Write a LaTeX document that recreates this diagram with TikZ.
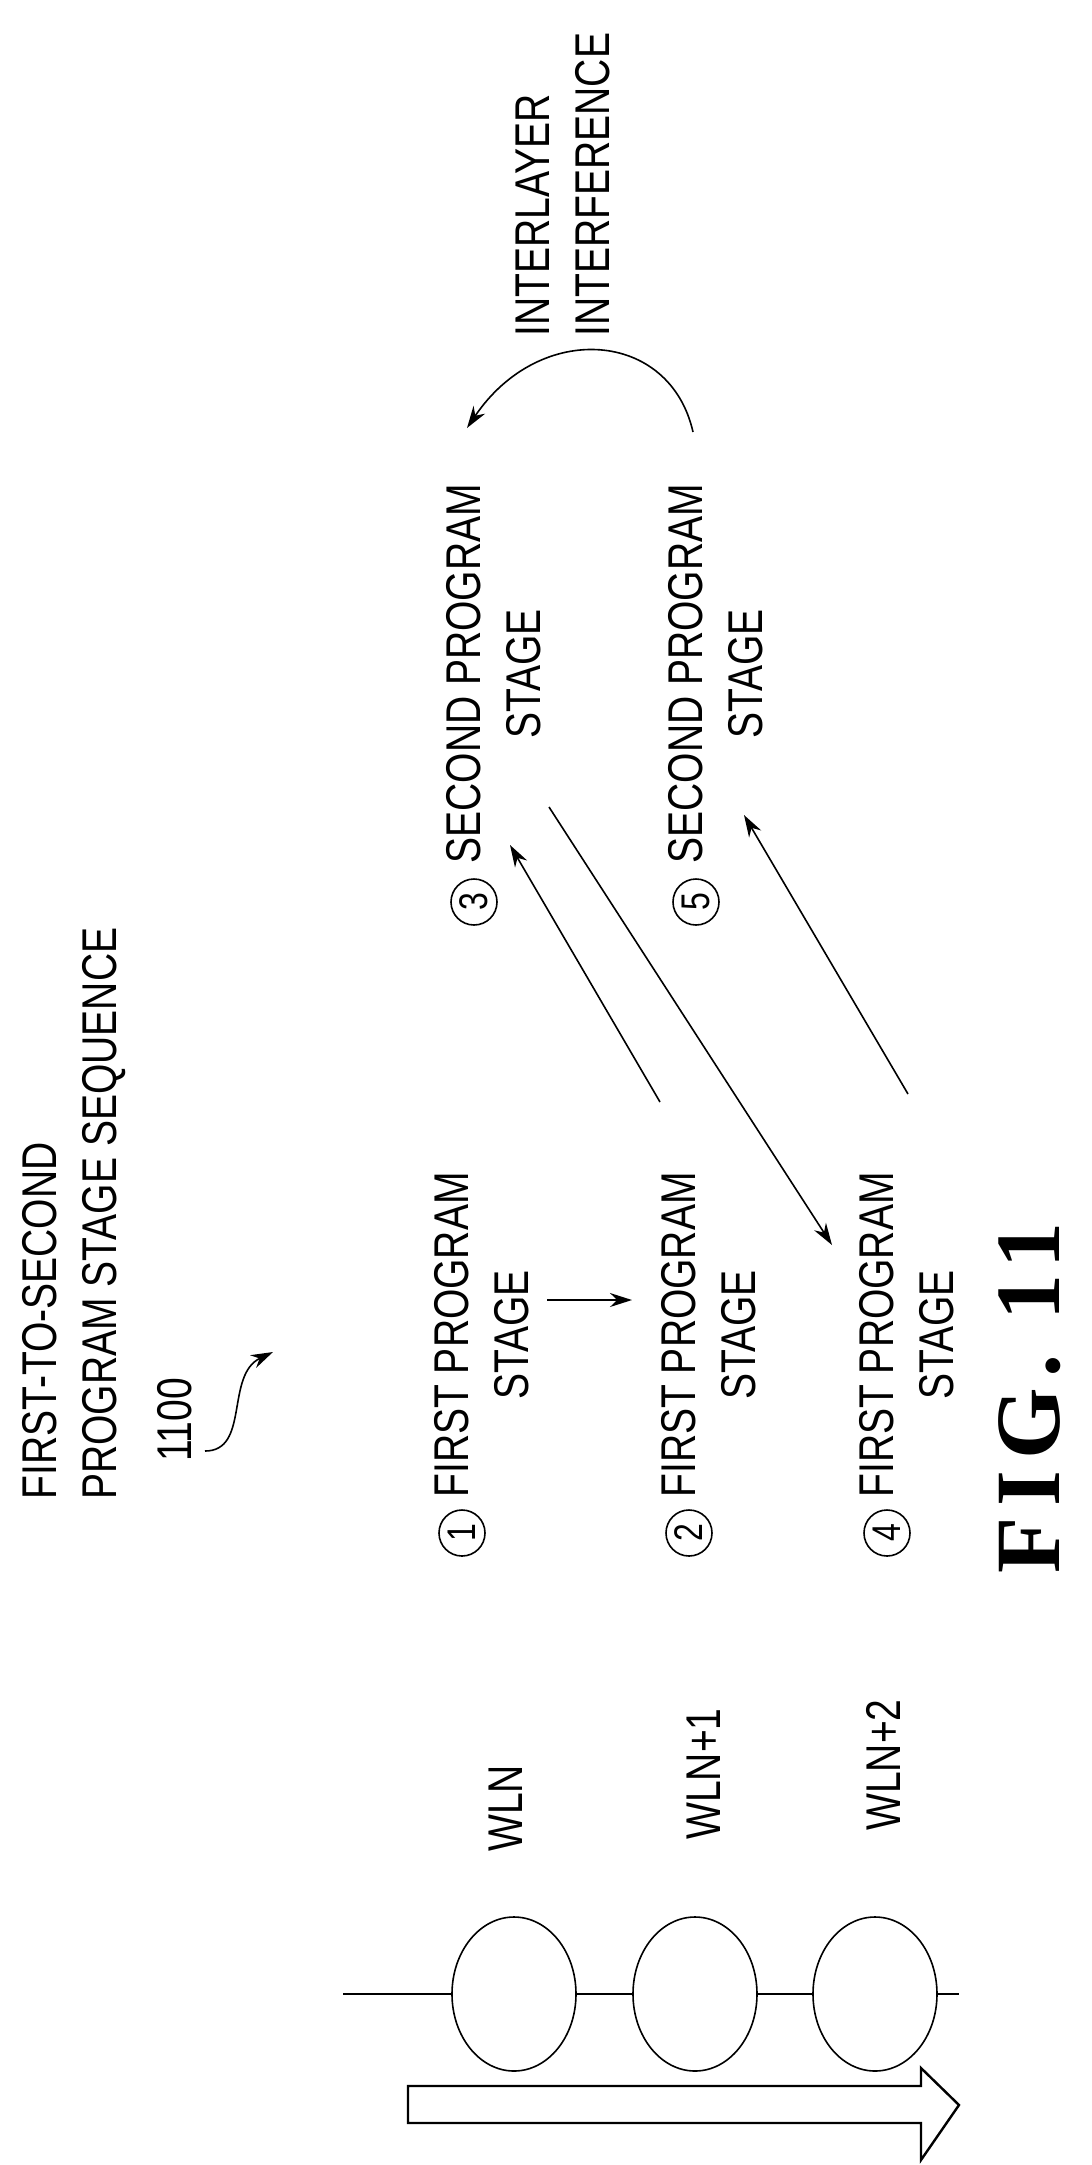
\documentclass[tikz,border=0pt]{standalone}
\usepackage{fontspec}
\setmainfont{Liberation Sans}[FakeStretch=0.8]
\newfontfamily\figfont{Liberation Serif}[LetterSpace=12]
\usetikzlibrary{arrows.meta,shapes.geometric}
\tikzset{
  lbl/.style={rotate=90,anchor=west,align=center,inner sep=0pt,font=\fontsize{24.4}{30}\selectfont},
  num/.style={rotate=90,circle,draw,line width=0.8pt,inner sep=1pt,minimum size=23pt,font=\fontsize{20}{20}\selectfont},
  arr/.style={line width=0.8pt,-{Stealth[length=11pt,width=7pt]}},
  cell/.style={ellipse,draw,line width=0.8pt,minimum width=62pt,minimum height=77pt,inner sep=0pt}
}
\begin{document}
\begin{tikzpicture}[x=0.5pt,y=-0.5pt]
        \useasboundingbox (0,0) rectangle (1092,2165);

        % Title
        \node[lbl,align=left] (title) at (74,1500) {FIRST-TO-SECOND\\PROGRAM STAGE SEQUENCE};
        \node[lbl,anchor=center] (ref) at (175,1420) {1100};
        \coordinate (sqA) at (205,1451);
        \coordinate (sqB) at (273,1352);
        \draw[arr] (sqA) .. controls (250,1451) and (225,1375) .. (sqB);

        % Stage labels
        \node[num] (n1) at (462,1533) {1};
        \node[lbl] (s1) at (482,1498) {FIRST PROGRAM\\STAGE};
        \node[num] (n2) at (689,1533) {2};
        \node[lbl] (s2) at (709,1498) {FIRST PROGRAM\\STAGE};
        \node[num] (n4) at (887,1533) {4};
        \node[lbl] (s4) at (907,1498) {FIRST PROGRAM\\STAGE};
        \node[num] (n3) at (474,902) {3};
        \node[lbl] (s3) at (494,864) {SECOND PROGRAM\\STAGE};
        \node[num] (n5) at (696,902) {5};
        \node[lbl] (s5) at (716,864) {SECOND PROGRAM\\STAGE};
        \node[lbl,align=left] (intf) at (563,337) {INTERLAYER\\INTERFERENCE};

        % Connector ends
        \coordinate (a12s) at (547,1300);
        \coordinate (a12e) at (632,1300);
        \coordinate (a23s) at (660,1102);
        \coordinate (a23e) at (510,845);
        \coordinate (a34s) at (549,807);
        \coordinate (a34e) at (832,1245);
        \coordinate (a45s) at (908,1094);
        \coordinate (a45e) at (744,815);
        \coordinate (ilS) at (693,432);
        \coordinate (ilE) at (467,428);
        \draw[arr] (a12s) -- (a12e);
        \draw[arr] (a23s) -- (a23e);
        \draw[arr] (a34s) -- (a34e);
        \draw[arr] (a45s) -- (a45e);
        \draw[arr] (ilS) .. controls (670,330) and (540,320) .. (ilE);

        % Word lines
        \node[lbl] (wl0) at (506,1852) {WLN};
        \node[lbl] (wl1) at (704,1840) {WLN+1};
        \node[lbl] (wl2) at (883,1831) {WLN+2};
        \node[cell] (c0) at (514,1994) {};
        \node[cell] (c1) at (695,1994) {};
        \node[cell] (c2) at (875,1994) {};
        \coordinate (lnL) at (343,1994);
        \coordinate (lnR) at (959,1994);
        \draw[line width=0.8pt] (lnL) -- (c0.west) (c0.east) -- (c1.west) (c1.east) -- (c2.west) (c2.east) -- (lnR);

        % Block arrow
        \draw[line width=1.2pt] (408,2086) -- (921,2086) -- (921,2068) -- (959,2105) -- (921,2160) -- (921,2123) -- (408,2123) -- cycle;

        % Figure label
        \node[rotate=90,inner sep=0pt,font=\figfont\bfseries\fontsize{46}{46}\selectfont] (fig) at (1030,1398) {FIG.~11};
\end{tikzpicture}
\end{document}
